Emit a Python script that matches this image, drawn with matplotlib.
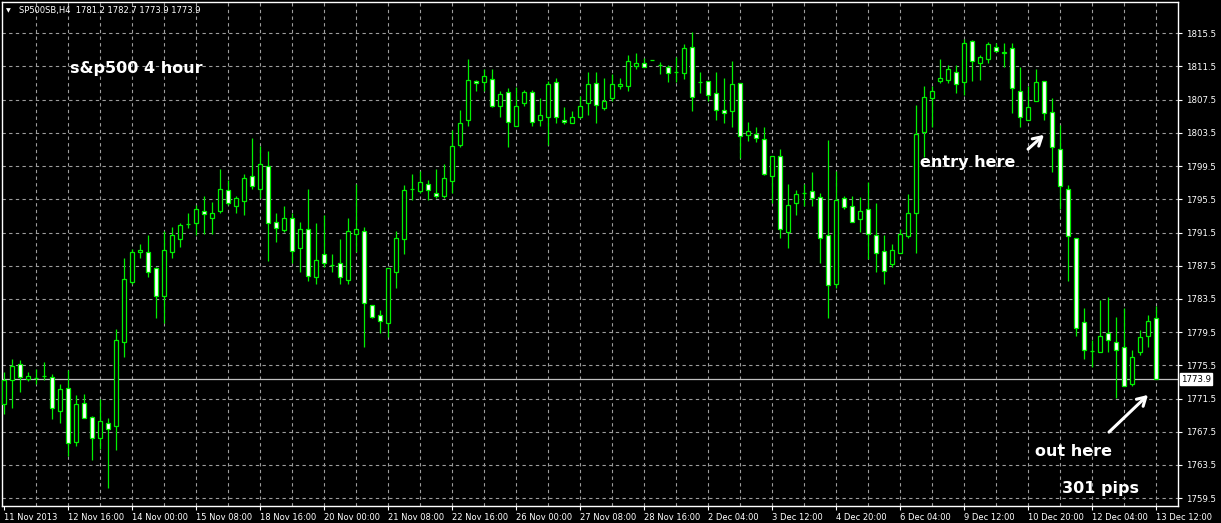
import matplotlib
matplotlib.use("Agg")
import matplotlib.pyplot as plt

# ---------------- data ----------------
symbol = "SP500SB,H4"
title_text = "s&p500 4 hour"

opens = [1770.8, 1773.7, 1775.6, 1773.9, 1774.0, 1774.2, 1774.1, 1770.0, 1772.8, 1766.3,
         1770.9, 1769.3, 1766.7, 1768.6, 1768.2, 1778.3, 1785.5, 1789.2, 1789.1, 1787.2,
         1783.8, 1789.1, 1790.7, 1792.5, 1792.7, 1794.1, 1793.3, 1794.1, 1796.6, 1794.7,
         1795.3, 1798.35, 1796.7, 1799.55, 1792.8, 1791.8, 1793.2, 1789.6, 1791.9, 1786.1,
         1788.9, 1787.6, 1787.8, 1785.8, 1791.3, 1791.7, 1782.8, 1781.6, 1780.6, 1786.8,
         1790.7, 1796.8, 1796.5, 1797.3, 1796.3, 1795.9, 1797.7, 1802.0, 1805.1, 1809.8,
         1809.6, 1810.0, 1806.8, 1808.4, 1804.3, 1807.1, 1808.4, 1805.1, 1805.4, 1809.6,
         1805.1, 1804.7, 1805.4, 1807.1, 1809.5, 1806.5, 1807.7, 1809.1, 1809.1, 1811.6,
         1811.9, 1812.3, 1811.64, 1811.4, 1810.8, 1810.7, 1813.8, 1809.6, 1809.8, 1808.35,
         1806.3, 1806.1, 1809.55, 1803.3, 1803.4, 1802.72, 1798.35, 1800.75, 1791.6, 1795.1,
         1796.3, 1796.5, 1795.8, 1791.2, 1785.3, 1795.6, 1794.7, 1793.1, 1794.3, 1791.2,
         1789.3, 1787.7, 1789.07, 1791.1, 1793.9, 1803.65, 1807.7, 1809.8, 1809.9, 1810.8,
         1809.6, 1814.6, 1811.9, 1812.4, 1813.8, 1813.1, 1813.7, 1808.6, 1805.1, 1807.3,
         1809.8, 1806.05, 1801.6, 1796.8, 1790.8, 1780.7, 1777.2, 1777.1, 1779.35, 1778.3,
         1777.7, 1773.25, 1777.1, 1779.07, 1781.2]
highs = [1774.7, 1776.3, 1776.1, 1774.7, 1775.1, 1775.9, 1774.4, 1773.3, 1774.9, 1771.9,
         1772.1, 1769.4, 1771.4, 1769.1, 1779.9, 1788.4, 1789.5, 1790.1, 1791.2, 1787.3,
         1791.7, 1792.2, 1792.7, 1793.8, 1794.8, 1795.9, 1795.2, 1799.15, 1797.8, 1795.9,
         1798.6, 1802.85, 1801.9, 1801.3, 1793.8, 1794.7, 1793.8, 1792.8, 1796.8, 1792.7,
         1793.6, 1788.9, 1790.7, 1793.3, 1797.4, 1792.2, 1782.8, 1782.2, 1787.2, 1791.7,
         1797.2, 1798.6, 1798.9, 1797.8, 1799.1, 1799.8, 1803.9, 1806.3, 1812.4, 1809.9,
         1811.2, 1811.2, 1808.5, 1808.9, 1809.0, 1808.7, 1808.7, 1807.7, 1809.7, 1810.1,
         1806.6, 1806.1, 1807.9, 1810.8, 1810.8, 1810.1, 1810.55, 1810.1, 1812.9, 1813.1,
         1812.5, 1812.3, 1812.0, 1811.7, 1812.6, 1814.2, 1815.7, 1810.8, 1809.8, 1810.8,
         1810.1, 1812.2, 1809.55, 1804.85, 1804.25, 1804.25, 1800.7, 1801.6, 1797.3, 1796.6,
         1797.4, 1798.8, 1796.2, 1802.6, 1798.9, 1795.9, 1795.9, 1795.8, 1797.6, 1795.1,
         1791.2, 1790.1, 1791.9, 1796.1, 1806.9, 1809.1, 1809.15, 1812.4, 1811.7, 1811.7,
         1814.8, 1814.7, 1812.9, 1814.4, 1814.3, 1814.3, 1814.3, 1811.4, 1809.15, 1811.2,
         1809.8, 1807.7, 1804.4, 1797.2, 1790.8, 1782.4, 1778.6, 1783.4, 1783.7, 1781.3,
         1782.4, 1777.3, 1779.7, 1781.6, 1782.7]
lows = [1769.6, 1770.3, 1772.3, 1773.6, 1773.3, 1773.7, 1769.0, 1768.6, 1764.6, 1765.8,
        1769.1, 1764.1, 1765.4, 1760.7, 1765.3, 1776.5, 1785.3, 1788.4, 1786.1, 1781.2,
        1780.6, 1788.4, 1789.8, 1792.1, 1791.2, 1791.3, 1791.3, 1793.8, 1794.8, 1793.8,
        1793.6, 1796.7, 1795.7, 1788.1, 1790.3, 1791.6, 1787.8, 1786.8, 1785.6, 1785.3,
        1787.4, 1786.8, 1785.3, 1785.3, 1789.1, 1777.7, 1781.2, 1779.4, 1778.9, 1784.8,
        1788.9, 1795.4, 1796.2, 1795.4, 1795.6, 1795.6, 1796.3, 1801.8, 1804.3, 1808.6,
        1808.6, 1806.6, 1805.4, 1801.8, 1804.3, 1806.7, 1804.3, 1804.3, 1802.1, 1804.7,
        1804.6, 1804.7, 1805.3, 1805.7, 1804.7, 1806.3, 1807.3, 1808.8, 1808.55, 1811.2,
        1811.4, 1812.3, 1810.6, 1809.6, 1809.6, 1810.0, 1806.1, 1808.3, 1807.3, 1805.05,
        1804.65, 1804.25, 1800.5, 1802.5, 1802.45, 1798.4, 1795.0, 1790.8, 1789.6, 1793.6,
        1794.7, 1794.7, 1787.8, 1781.15, 1784.8, 1794.3, 1792.8, 1791.6, 1788.3, 1786.8,
        1785.3, 1787.4, 1789.07, 1790.8, 1789.07, 1800.6, 1804.2, 1809.5, 1809.5, 1808.35,
        1808.1, 1809.7, 1809.9, 1811.9, 1813.2, 1811.4, 1805.9, 1804.2, 1805.1, 1807.3,
        1805.05, 1798.8, 1794.3, 1785.6, 1779.07, 1776.3, 1775.3, 1777.1, 1777.1, 1771.6,
        1773.05, 1773.05, 1776.7, 1777.7, 1773.9]
closes = [1773.7, 1775.4, 1774.1, 1774.2, 1774.0, 1774.2, 1770.3, 1772.6, 1766.1, 1770.8,
          1769.1, 1766.8, 1768.8, 1767.8, 1778.6, 1785.9, 1789.1, 1789.35, 1786.8, 1783.8,
          1789.35, 1791.2, 1792.4, 1792.5, 1794.3, 1793.7, 1793.8, 1796.8, 1795.1, 1795.6,
          1798.1, 1797.1, 1799.8, 1792.6, 1792.1, 1793.3, 1789.3, 1791.9, 1786.3, 1788.2,
          1787.8, 1787.6, 1786.1, 1791.7, 1791.9, 1783.0, 1781.3, 1780.8, 1787.2, 1790.8,
          1796.6, 1796.8, 1797.6, 1796.6, 1795.9, 1798.1, 1801.9, 1804.7, 1809.9, 1809.5,
          1810.4, 1806.7, 1808.2, 1804.8, 1806.8, 1808.4, 1804.8, 1805.6, 1809.4, 1805.4,
          1804.8, 1805.4, 1806.8, 1809.4, 1806.9, 1807.3, 1809.35, 1809.35, 1812.2, 1811.9,
          1811.4, 1812.3, 1811.64, 1810.7, 1810.8, 1813.7, 1807.8, 1809.6, 1808.1, 1806.3,
          1805.9, 1809.35, 1803.1, 1803.7, 1802.85, 1798.6, 1800.7, 1791.9, 1794.8, 1796.1,
          1796.3, 1795.6, 1790.8, 1785.2, 1795.4, 1794.6, 1792.8, 1794.1, 1791.3, 1789.07,
          1786.9, 1789.4, 1791.3, 1793.8, 1803.4, 1807.8, 1808.6, 1810.1, 1811.2, 1809.35,
          1814.3, 1812.2, 1812.6, 1814.2, 1813.4, 1813.3, 1808.9, 1805.4, 1806.6, 1809.6,
          1805.9, 1801.85, 1797.1, 1791.1, 1780.0, 1777.3, 1777.2, 1779.07, 1778.6, 1777.3,
          1773.05, 1776.5, 1778.9, 1780.8, 1773.9]

time_labels = ["11 Nov 2013", "12 Nov 16:00", "14 Nov 00:00", "15 Nov 08:00",
               "18 Nov 16:00", "20 Nov 00:00", "21 Nov 08:00", "22 Nov 16:00",
               "26 Nov 00:00", "27 Nov 08:00", "28 Nov 16:00", "2 Dec 04:00",
               "3 Dec 12:00", "4 Dec 20:00", "6 Dec 04:00", "9 Dec 12:00",
               "10 Dec 20:00", "12 Dec 04:00", "13 Dec 12:00"]
bars_per_label = 8
bars_per_vgrid = 4
price_ticks = [1815.5, 1811.5, 1807.5, 1803.5, 1799.5, 1795.5, 1791.5, 1787.5,
               1783.5, 1779.5, 1775.5, 1771.5, 1767.5, 1763.5, 1759.5]

annotations = [("entry here", 920, 163), ("out here", 1035, 452), ("301 pips", 1062, 488)]

# ---------------- figure ----------------
W, H = 1221, 523
DPI = 100
GREEN = "#00f000"
GRID = "#9c9c9c"

fig = plt.figure(figsize=(W / DPI, H / DPI), dpi=DPI, facecolor="black")
left_px, right_px, top_px, bottom_px = 2, 1178, 2, 506
ax = fig.add_axes([left_px / W, 1 - bottom_px / H,
                   (right_px - left_px) / W, (bottom_px - top_px) / H])
ax.set_facecolor("black")

n = len(opens)
xs = list(range(n))
ax.set_xlim(-0.25, 146.75)
ax.set_ylim(1758.55, 1819.27)

# grid
ax.vlines(list(range(bars_per_vgrid, 147, bars_per_vgrid)), 1758.55, 1819.27,
          colors=GRID, linestyles=(0, (3, 3)), linewidth=0.8, zorder=1)
ax.hlines(price_ticks, -0.25, 146.75, colors=GRID, linestyles=(0, (3, 3)),
          linewidth=0.8, zorder=1)

# current price line
last_close = closes[-1]
ax.axhline(last_close, color="#c0c0c0", linewidth=0.9, zorder=1.5)

# candles
ax.vlines(xs, lows, highs, colors=GREEN, linewidth=0.9, zorder=2)
bw = 0.5
for i in xs:
    o, c = opens[i], closes[i]
    if c == o:
        ax.hlines(o, i - bw / 2 - 0.05, i + bw / 2 + 0.05, colors=GREEN,
                  linewidth=0.9, zorder=3)
        continue
    face = "black" if c > o else "white"
    ax.bar(i, abs(c - o), bottom=min(o, c), width=bw, facecolor=face,
           edgecolor=GREEN, linewidth=0.9, zorder=3)

# axes styling
for s in ax.spines.values():
    s.set_color("white")
    s.set_linewidth(1)
ax.yaxis.tick_right()
ax.set_yticks(price_ticks)
ax.set_yticklabels([f"{p:.1f}" for p in price_ticks])
ax.tick_params(axis="y", colors="white", labelcolor="white", length=3, width=0.8,
               direction="out", pad=3, labelsize=6.2)
xt = [k * bars_per_label for k in range(len(time_labels))]
ax.set_xticks(xt)
ax.set_xticklabels(time_labels, ha="left")
ax.tick_params(axis="x", colors="white", labelcolor="white", length=3, width=0.8,
               direction="out", pad=2, labelsize=6.0)

# current price tag
fig.text(1181 / W, 1 - 379 / H, f"{last_close:.1f}", fontsize=6.2, color="black",
         ha="left", va="center",
         bbox=dict(facecolor="white", edgecolor="white", boxstyle="square,pad=0.15"))

# header
fig.text(6 / W, 1 - 11 / H, "\u25BC", fontsize=4.5, color="white", ha="left", va="center")
fig.text(19 / W, 1 - 11 / H,
         f"{symbol}  {opens[-1]:.1f} {highs[-1]:.1f} {lows[-1]:.1f} {closes[-1]:.1f}",
         fontsize=6.0, color="white", ha="left", va="center")

# titles / annotations
fig.text(70 / W, 1 - 68 / H, title_text, fontsize=11.5, fontweight="bold",
         color="white", ha="left", va="center")
for txt, px, py in annotations:
    fig.text(px / W, 1 - py / H, txt, fontsize=11.5, fontweight="bold",
             color="white", ha="left", va="center")

arrow_kw = dict(arrowstyle="->,head_length=0.6,head_width=0.35", color="white", lw=2.2)
fig.add_artist(matplotlib.patches.FancyArrowPatch(
    (1026 / W, 1 - 151 / H), (1046 / W, 1 - 133 / H), transform=fig.transFigure,
    mutation_scale=10, **arrow_kw))
fig.add_artist(matplotlib.patches.FancyArrowPatch(
    (1107 / W, 1 - 434 / H), (1150 / W, 1 - 393 / H), transform=fig.transFigure,
    mutation_scale=10, **arrow_kw))

fig.savefig("out.png", dpi=DPI, facecolor="black")
